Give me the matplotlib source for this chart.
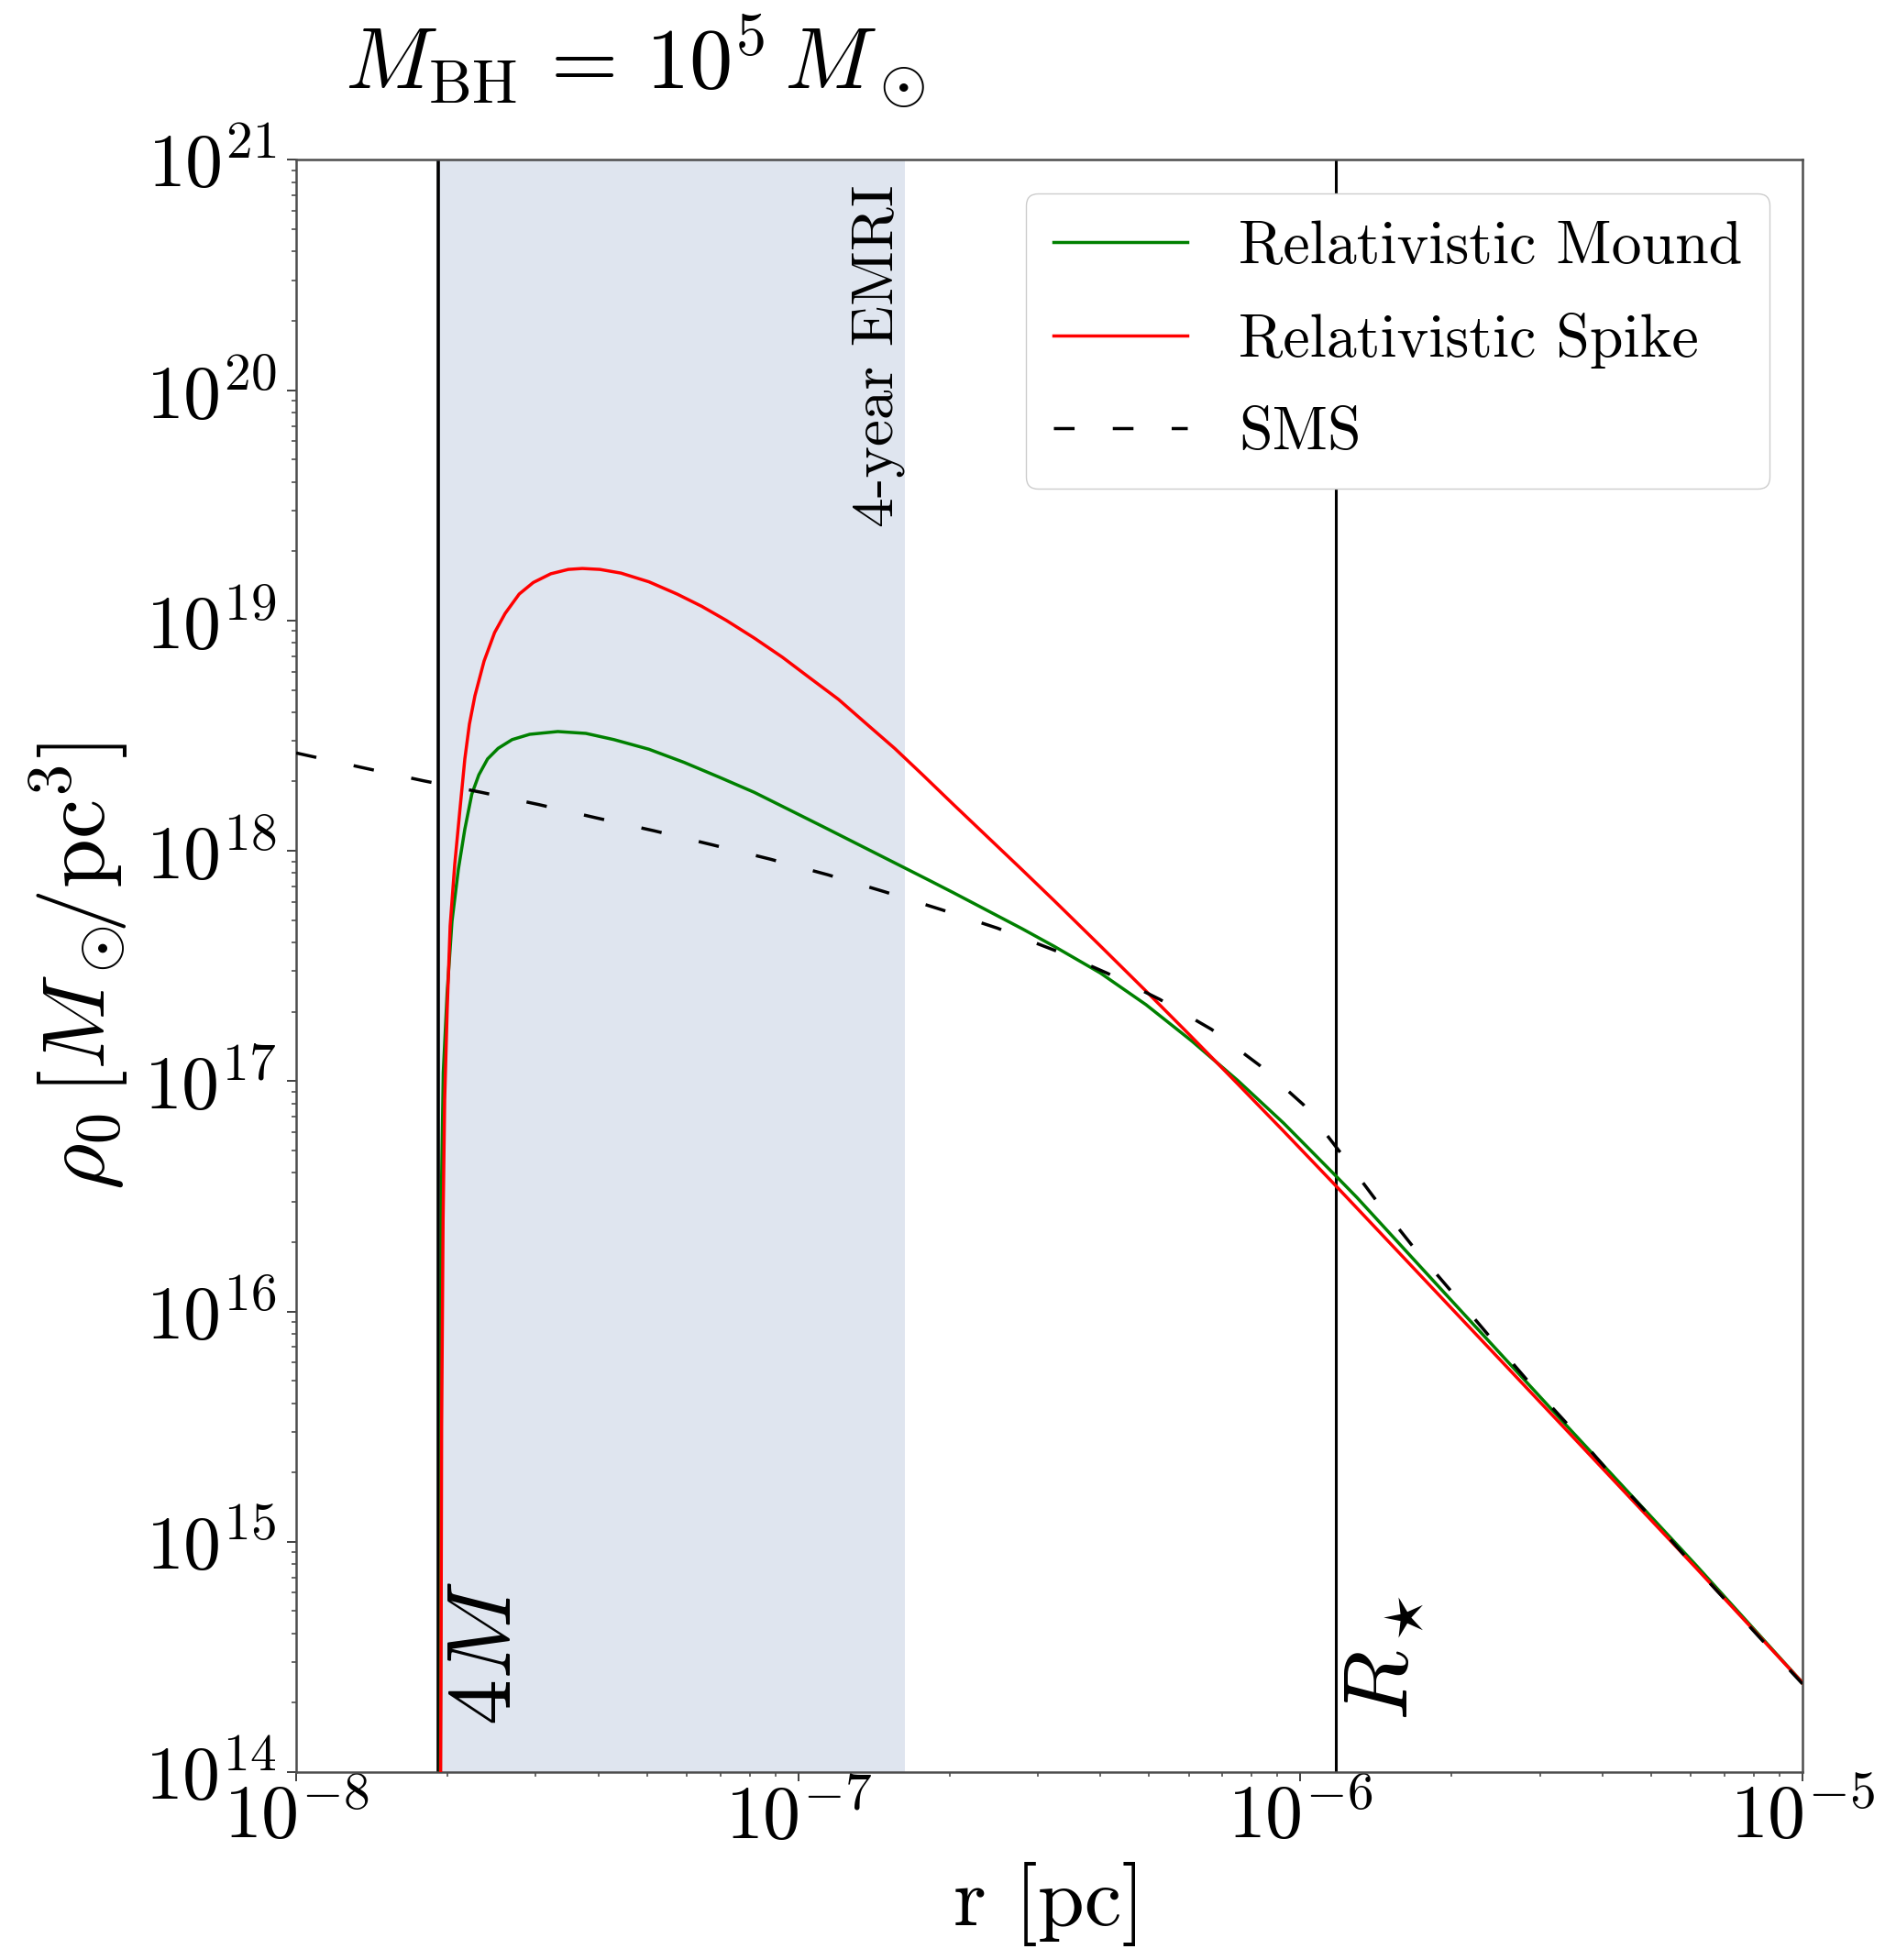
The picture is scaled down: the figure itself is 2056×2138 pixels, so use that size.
import numpy as np
import matplotlib
matplotlib.use('Agg')
import matplotlib.pyplot as plt
from matplotlib.ticker import FuncFormatter, LogLocator, NullFormatter

plt.rcParams['font.family'] = ['cmr10', 'DejaVu Serif']
plt.rcParams['mathtext.fontset'] = 'cm'
plt.rcParams['axes.unicode_minus'] = False
plt.rcParams['axes.formatter.use_mathtext'] = True

# ---------------- data ----------------
r_4M = 1.921e-8        # pc, 4M radius
r_star = 1.178e-6      # pc, stellar radius R_star
r_emri = 1.633e-7      # pc, edge of 4-year EMRI band

labels = ['Relativistic Mound', 'Relativistic Spike', 'SMS']

# Relativistic Mound (green): log10 r [pc], log10 rho [Msun/pc^3]
mound_log_r = [-7.7136, -7.71242, -7.71151, -7.71023, -7.70694, -7.69927, -7.68959,
               -7.67681, -7.66403, -7.65015, -7.63609, -7.61874, -7.59774, -7.56981,
               -7.53475, -7.47888, -7.42301, -7.36713, -7.29720, -7.22727, -7.15752,
               -7.08758, -7.01765, -6.94790, -6.87797, -6.80805, -6.73829, -6.69081,
               -6.55430, -6.48997, -6.39867, -6.30737, -6.21608, -6.12478, -6.03349,
               -5.92996, -5.88741, -5.75065, -5.47439, -5.21183, -5.00000]
mound_log_rho = [13.0, 14.425, 15.500, 16.575, 17.037, 17.383, 17.694,
                 17.921, 18.094, 18.246, 18.330, 18.399, 18.445, 18.483,
                 18.506, 18.518, 18.510, 18.483, 18.441, 18.384, 18.320,
                 18.254, 18.178, 18.102, 18.025, 17.948, 17.871, 17.818,
                 17.662, 17.585, 17.470, 17.332, 17.174, 17.003, 16.818,
                 16.590, 16.495, 16.170, 15.515, 14.898, 14.388]

# Relativistic Spike (red)
spike_log_r = [-7.7138, -7.71151, -7.71023, -7.70731, -7.70420, -7.69909, -7.69325,
               -7.68412, -7.67408, -7.66403, -7.65490, -7.64395, -7.62569, -7.60469,
               -7.58369, -7.55576, -7.52780, -7.49290, -7.45790, -7.43000, -7.39510,
               -7.35310, -7.29720, -7.24130, -7.19240, -7.14350, -7.08760, -7.03170,
               -6.97580, -6.92000, -6.86390, -6.80800, -6.75220, -6.69080, -6.55430,
               -6.48997, -6.39867, -6.30737, -6.21608, -6.12478, -6.03349, -5.92996,
               -5.88741, -5.75065, -5.47439, -5.21183, -5.00000]
spike_log_rho = [13.0, 14.425, 15.500, 16.400, 16.918, 17.316, 17.674,
                 17.941, 18.172, 18.399, 18.550, 18.673, 18.824, 18.948,
                 19.031, 19.115, 19.165, 19.203, 19.222, 19.226, 19.222,
                 19.206, 19.168, 19.115, 19.062, 19.001, 18.924, 18.841,
                 18.749, 18.658, 18.551, 18.445, 18.330, 18.201, 17.918,
                 17.783, 17.588, 17.391, 17.191, 16.988, 16.783, 16.547,
                 16.449, 16.133, 15.495, 14.886, 14.388]

# SMS (black dashed)
sms_log_r = [-8.000, -7.863, -7.746, -7.631, -7.517, -7.402, -7.287, -7.171, -7.056,
             -6.941, -6.829, -6.714, -6.603, -6.481, -6.384, -6.280, -6.177,
             -6.082, -5.994, -5.921, -5.852, -5.778, -5.702, -5.625, -5.548,
             -5.467, -5.391, -5.310, -5.233, -5.153, -5.073, -5.000]
sms_log_rho = [18.425, 18.359, 18.304, 18.254, 18.201, 18.143, 18.087, 18.026, 17.964,
               17.896, 17.823, 17.744, 17.664, 17.561, 17.468, 17.355, 17.225,
               17.070, 16.898, 16.692, 16.491, 16.288, 16.094, 15.896, 15.701,
               15.508, 15.317, 15.126, 14.936, 14.746, 14.555, 14.383]

# ---------------- figure ----------------
fig = plt.figure(figsize=(20.56, 21.38), dpi=100)
ax = fig.add_axes([0.1571, 0.0959, 0.7991, 0.8225])
ax.set_xscale('log')
ax.set_yscale('log')

ax.axvspan(r_4M, r_emri, color='#dfe5ef', lw=0, zorder=0)
ax.axvline(r_4M, color='k', lw=2.6, zorder=1)
ax.axvline(r_star, color='k', lw=2.2, zorder=1)

ax.plot(10 ** np.array(mound_log_r), 10 ** np.array(mound_log_rho),
        color='green', lw=2.5, label=labels[0], zorder=3)
ax.plot(10 ** np.array(spike_log_r), 10 ** np.array(spike_log_rho),
        color='red', lw=2.5, label=labels[1], zorder=3)
ax.plot(10 ** np.array(sms_log_r), 10 ** np.array(sms_log_rho),
        color='k', lw=2.5, ls=(0, (6.5, 12.0)), label=labels[2], zorder=4)

ax.set_xlim(1e-8, 1e-5)
ax.set_ylim(1e14, 1e21)

fmt = FuncFormatter(lambda v, p: r'$10^{%d}$' % int(round(np.log10(v))))
for axis in (ax.xaxis, ax.yaxis):
    axis.set_major_locator(LogLocator(base=10, numticks=20))
    axis.set_minor_locator(LogLocator(base=10, subs=np.arange(2, 10), numticks=100))
    axis.set_major_formatter(fmt)
    axis.set_minor_formatter(NullFormatter())

ax.tick_params(which='major', length=7.5, width=1.4, labelsize=59, color='0.25')
ax.tick_params(which='minor', length=3.8, width=1.1, color='0.25')
ax.tick_params(axis='x', which='major', pad=0.5)
ax.tick_params(axis='y', which='major', pad=8)
for s in ax.spines.values():
    s.set_color('0.3')
    s.set_linewidth(1.8)

ax.set_xlabel('r [pc]', fontsize=66)
ax.set_ylabel(r'$\rho_0\,[M_\odot\!\!/\mathrm{pc}^3]$', fontsize=70)
ax.xaxis.set_label_coords(0.5, -0.056)
ax.yaxis.set_label_coords(-0.110, 0.5)

ax.annotate(r'$4M$', xy=(r_4M, 1.6e14), xytext=(9, 0), textcoords='offset pixels',
            rotation=90, ha='left', va='bottom', fontsize=72)
ax.annotate(r'$R_\star$', xy=(r_star, 1.67e14), xytext=(8, 0), textcoords='offset pixels',
            rotation=90, ha='left', va='bottom', fontsize=72)
ax.text(r_emri, 7.8e20, '4-year EMRI', rotation=90, ha='right', va='top',
        fontsize=47)

leg = ax.legend(loc='upper right', fontsize=47.4, handlelength=2.22, handletextpad=0.85,
                labelspacing=0.63, borderpad=0.45, borderaxespad=0.55,
                framealpha=1.0, fancybox=True, edgecolor='0.8')

fig.text(0.3368, 0.9551, r'$M_{\rm BH}\,=\,10^5\,M_\odot$', fontsize=68,
         ha='center', va='baseline')

fig.savefig('out.png', dpi=100)
